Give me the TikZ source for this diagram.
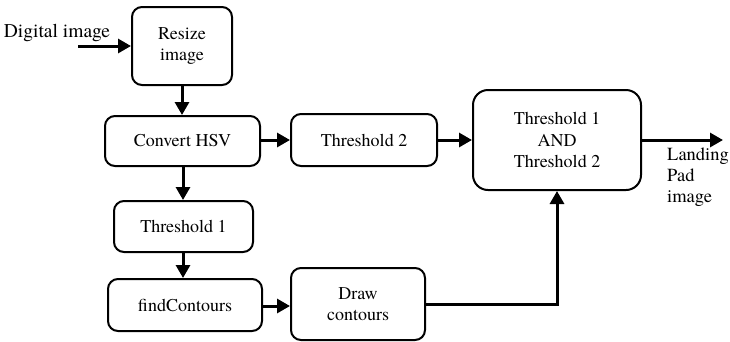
\documentclass[tikz,border=0pt]{standalone}
\usepackage{fontspec}
\setmainfont{texgyretermes}[Extension=.otf, UprightFont=*-regular, BoldFont=*-bold, ItalicFont=*-italic, BoldItalicFont=*-bolditalic]
\usetikzlibrary{arrows.meta}
\begin{document}
\begin{tikzpicture}[x=1pt,y=-1pt,
  box/.style={draw, line width=2pt, rounded corners=10pt, align=center, inner sep=0pt,
    font=\fontsize{18}{21.7}\selectfont},
  flow/.style={line width=3pt, -{Triangle[length=13pt,width=14pt]}}]
\useasboundingbox (0,0) rectangle (730,341);
\node[box, minimum width=100pt, minimum height=78pt] (resize) at (182,46) {Resize\\image};
\node[box, minimum width=155pt, minimum height=50pt] (hsv) at (182.5,141) {Convert HSV};
\node[box, minimum width=146pt, minimum height=52pt] (t2) at (364,140) {Threshold 2};
\node[box, rounded corners=15pt, minimum width=168pt, minimum height=100pt] (and) at (557,140) {Threshold 1\\AND\\Threshold 2};
\node[box, minimum width=139pt, minimum height=51pt] (t1) at (183.5,226.5) {Threshold 1};
\node[box, minimum width=154pt, minimum height=52pt] (fc) at (185,305) {findContours};
\node[box, minimum width=134pt, minimum height=72pt] (dc) at (358,304) {Draw\\contours};
\node[font=\fontsize{19.5}{22}\selectfont, inner sep=0pt] (din) at (57,33) {Digital image};
\node[font=\fontsize{18.5}{21}\selectfont, align=left, anchor=west, inner sep=0pt] (lp) at (667,177) {Landing\\Pad\\image};
\coordinate (s) at (78,46);
\coordinate (e) at (723,140);
\draw[flow] (s) -- (resize.west |- s);
\draw[flow] (resize.south -| 182,0) -- (hsv.north -| 182,0);
\draw[flow] (hsv.east |- 0,140) -- (t2.west |- 0,140);
\draw[flow] (t2.east |- 0,140) -- (and.west |- 0,140);
\draw[flow] (and.east |- e) -- (e);
\draw[flow] (hsv.south -| 183,0) -- (t1.north -| 183,0);
\draw[flow] (t1.south -| 183,0) -- (fc.north -| 183,0);
\draw[flow] (fc.east |- 0,306) -- (dc.west |- 0,306);
\draw[flow] (dc.east |- 0,304) -| (and.south);
\end{tikzpicture}
\end{document}
